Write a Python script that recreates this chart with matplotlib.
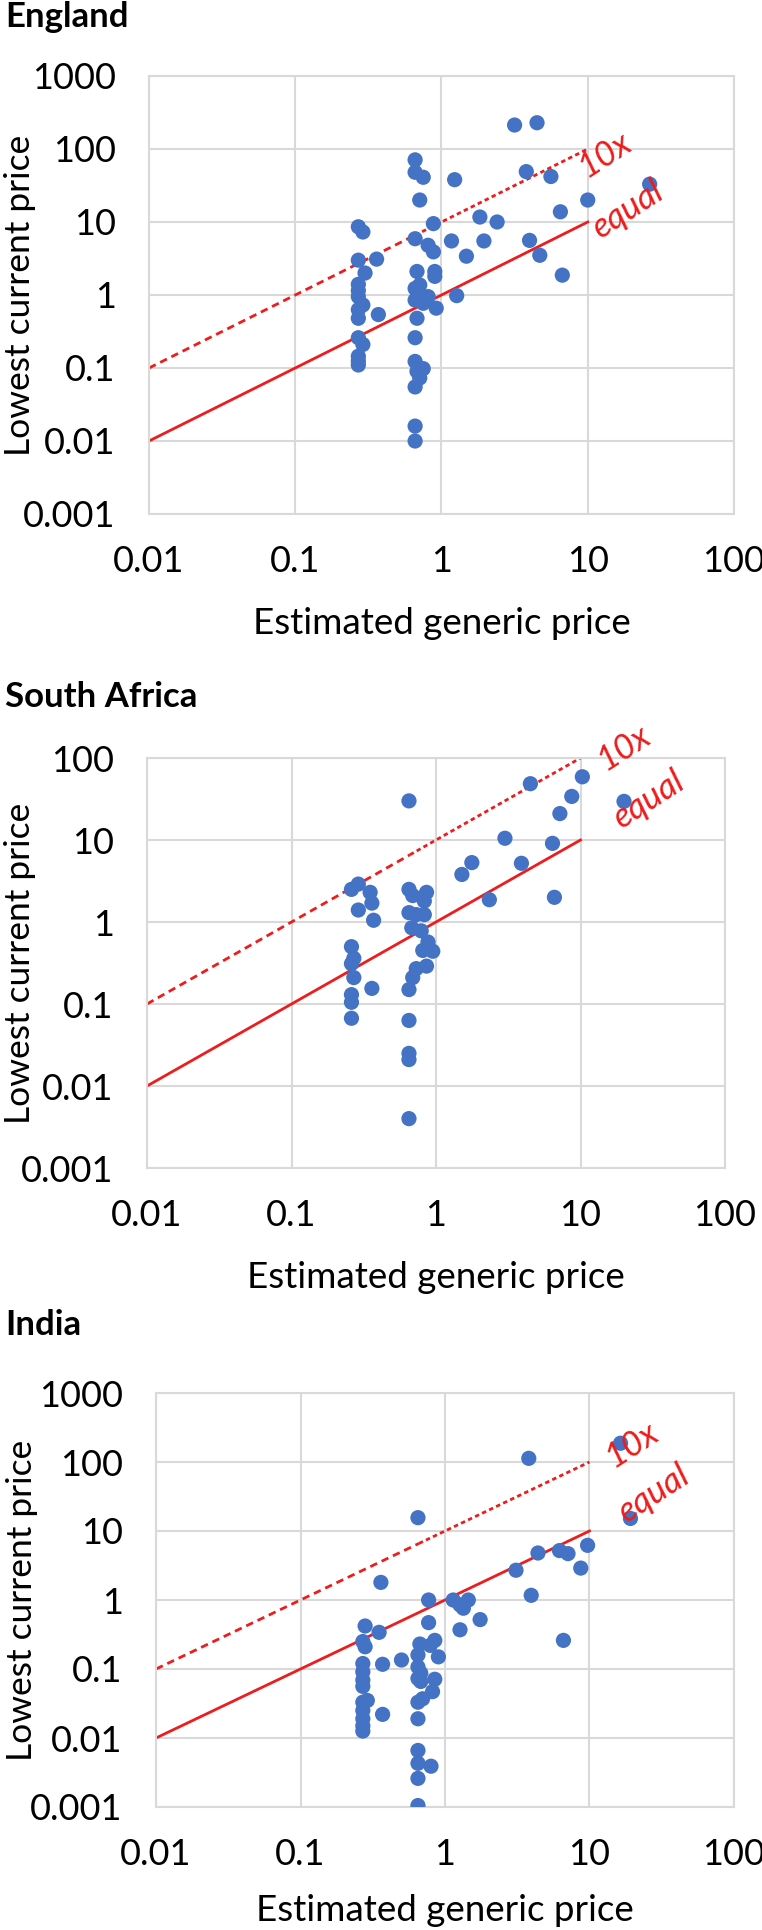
import matplotlib
matplotlib.use("Agg")
import matplotlib.pyplot as plt

plt.rcParams['font.family'] = ['Lato', 'DejaVu Sans']

# ---- data (estimated generic price, lowest current price) ----
eng_x = [0.27, 0.29, 0.27, 0.36, 0.30, 0.27, 0.27, 0.27, 0.29, 0.27, 0.27, 0.37, 0.27, 0.29, 0.27, 0.27, 0.27,
         0.66, 0.66, 0.75, 0.71, 0.88, 0.66, 0.81, 0.88, 0.68, 0.90, 0.90, 0.66, 0.71, 0.70, 0.81, 0.66, 0.75,
         0.92, 0.68, 0.66, 0.66, 0.75, 0.68, 0.71, 0.66, 0.66, 0.66,
         1.23, 1.17, 1.48, 1.27, 1.83, 2.4, 1.95, 3.16, 4.5, 3.8, 5.6, 6.5, 6.7, 4.0, 4.7, 10, 26.5]
eng_y = [8.6, 7.3, 3.0, 3.1, 2.0, 1.4, 1.15, 0.95, 0.73, 0.63, 0.48, 0.54, 0.26, 0.21, 0.145, 0.125, 0.11,
         71, 48, 41, 20, 9.5, 5.9, 4.8, 3.9, 2.1, 2.1, 1.8, 1.23, 1.37, 1.05, 0.95, 0.85, 0.77,
         0.66, 0.48, 0.26, 0.123, 0.098, 0.09, 0.073, 0.055, 0.016, 0.010,
         38, 5.5, 3.4, 0.98, 11.7, 10, 5.5, 213, 229, 49, 42, 13.8, 1.87, 5.6, 3.5, 20, 33]

sa_x = [0.29, 0.26, 0.35, 0.36, 0.29, 0.37, 0.26, 0.27, 0.26, 0.27, 0.36, 0.26, 0.26, 0.26,
        0.65, 0.65, 0.69, 0.86, 0.83, 0.65, 0.83, 0.73, 0.68, 0.79, 0.88, 0.81, 0.95, 0.86, 0.73, 0.69,
        0.65, 0.65, 0.65, 0.65, 0.65,
        1.51, 1.77, 3.0, 2.34, 4.5, 10.3, 8.7, 7.2, 20, 6.4, 3.9, 6.6]
sa_y = [2.9, 2.5, 2.3, 1.7, 1.4, 1.05, 0.50, 0.36, 0.31, 0.21, 0.155, 0.13, 0.105, 0.067,
        30, 2.5, 2.1, 2.3, 1.8, 1.3, 1.23, 1.23, 0.85, 0.78, 0.57, 0.45, 0.44, 0.29, 0.27, 0.21,
        0.15, 0.063, 0.025, 0.021, 0.004,
        3.8, 5.3, 10.5, 1.87, 48.6, 59, 34, 21, 29.6, 9.1, 5.2, 2.0]

ind_x = [0.65, 0.36, 0.77, 1.14, 1.27, 1.45, 1.34, 0.77, 1.75, 1.27, 0.28, 0.35, 0.27, 0.28, 0.67,
         0.85, 0.79, 0.37, 0.50, 0.27, 0.27, 0.27, 0.27, 0.65, 0.65, 0.68, 0.65, 0.90, 0.85, 0.68,
         0.82, 0.70, 0.65, 0.27, 0.29, 0.27, 0.37, 0.27, 0.27, 0.27, 0.65, 0.65, 0.65, 0.80, 0.65, 0.65,
         3.8, 16.4, 19.2, 9.7, 7.1, 6.2, 4.4, 8.7, 3.1, 3.95, 6.6]
ind_y = [15.6, 1.8, 1.0, 1.0, 0.85, 1.0, 0.76, 0.47, 0.52, 0.37, 0.42, 0.34, 0.25, 0.21, 0.23,
         0.26, 0.22, 0.117, 0.135, 0.12, 0.091, 0.069, 0.056, 0.16, 0.107, 0.087, 0.073, 0.15, 0.071, 0.066,
         0.047, 0.037, 0.033, 0.033, 0.035, 0.025, 0.022, 0.019, 0.015, 0.0126, 0.019, 0.0066, 0.0043,
         0.0039, 0.0026, 0.00105,
         113, 187, 15.2, 6.2, 4.7, 5.2, 4.8, 2.9, 2.7, 1.17, 0.26]

x_ticks = [0.01, 0.1, 1, 10, 100]
x_labels = ['0.01', '0.1', '1', '10', '100']
y_ticks = [0.001, 0.01, 0.1, 1, 10, 100, 1000]
y_labels = ['0.001', '0.01', '0.1', '1', '10', '100', '1000']

line_x = [0.01, 0.66, 10]

blue = '#4472C4'
red = '#EE1C1C'
grid = '#D9D9D9'

fig = plt.figure(figsize=(7.62, 19.30), dpi=100)

panels = [
    # title, x, y, axes rect, ymax, title baseline px, 10x label pos, equal label pos, xlabel y, ylabel x
    ('England', eng_x, eng_y, [149/762, 1-514/1930, 585/762, 438/1930], 1000, 27, (13, 85), (19, 15), -0.249, -0.22),
    ('South Africa', sa_x, sa_y, [147/762, 1-1168/1930, 578/762, 410/1930], 100, 707, (20, 135), (30, 31), -0.266, -0.22),
    ('India', ind_x, ind_y, [156/762, 1-1807/1930, 578/762, 414/1930], 1000, 1335, (19.6, 178), (28, 35), -0.249, -0.232),
]

for title, xs, ys, rect, ymax, tb, p10, peq, xly, ylx in panels:
    ax = fig.add_axes(rect)
    ax.set_xscale('log')
    ax.set_yscale('log')
    ax.set_xlim(0.01, 100)
    ax.set_ylim(0.001, ymax)
    ax.set_xticks(x_ticks)
    ax.set_xticklabels(x_labels)
    yt = [t for t in y_ticks if t <= ymax]
    ax.set_yticks(yt)
    ax.set_yticklabels(y_labels[:len(yt)])
    ax.minorticks_off()
    ax.tick_params(length=0, labelsize=26, colors='black')
    ax.tick_params(axis='y', pad=24)
    ax.tick_params(axis='x', pad=22)
    ax.grid(True, color=grid, linewidth=1.5)
    ax.set_axisbelow(True)
    for s in ax.spines.values():
        s.set_color(grid)
        s.set_linewidth(1.5)

    # reference lines: equal (solid) and 10x (dashed)
    ax.plot([0.01, 10], [0.01, 10], color=red, lw=2.0, zorder=2)
    ax.plot(line_x[:2], [v * 10 for v in line_x[:2]], color=red, lw=2.0,
            dashes=(2.7, 1.8), zorder=2)
    ax.plot(line_x[1:], [v * 10 for v in line_x[1:]], color=red, lw=2.0,
            dashes=(1.6, 1.2), zorder=2)

    ax.scatter(xs, ys, s=120, color=blue, edgecolors='none', zorder=3)

    ax.text(p10[0], p10[1], '10x', color=red, fontsize=25, style='italic', rotation=33,
            ha='center', va='center', rotation_mode='anchor', clip_on=False)
    ax.text(peq[0], peq[1], 'equal', color=red, fontsize=25, style='italic', rotation=33,
            ha='center', va='center', rotation_mode='anchor', clip_on=False)

    ax.set_xlabel('Estimated generic price', fontsize=26.5)
    ax.xaxis.label.set_va('center')
    ax.xaxis.set_label_coords(0.5, xly)
    ax.set_ylabel('Lowest current price', fontsize=25.5)
    ax.yaxis.label.set_va('center')
    ax.yaxis.set_label_coords(ylx, 0.5)

    fig.text(5/762, 1 - tb/1930, title, fontsize=25, fontweight='bold', va='baseline', ha='left')

fig.savefig('out.png', dpi=100)
